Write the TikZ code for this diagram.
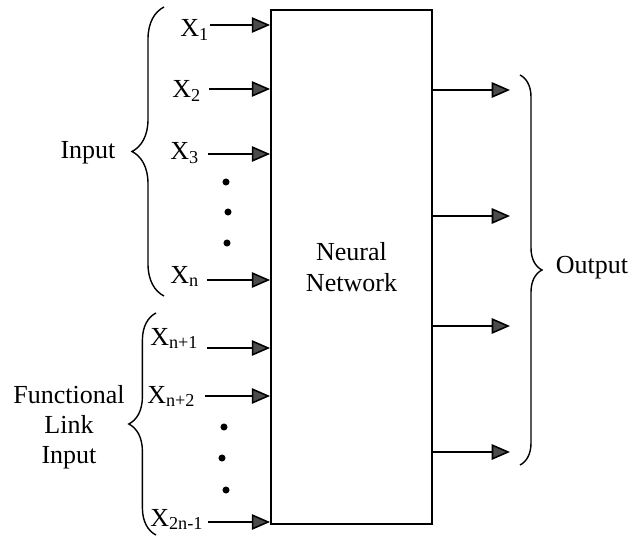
\documentclass[tikz,border=0pt]{standalone}
\usepackage{fontspec}
\setmainfont{Liberation Serif}
\usetikzlibrary{arrows.meta,decorations.pathreplacing}

\newcommand*{\boxl}{271}
\newcommand*{\boxr}{432}
\newcommand*{\boxt}{10}
\newcommand*{\boxb}{524}

\begin{document}
\begin{tikzpicture}
[
	x=0.025cm, y=-0.025cm,
	font=\fontsize{18.5}{21.5}\selectfont,
	arr/.style={-{Triangle[length=13pt,width=11pt,fill=black!70]},line width=1.1pt},
	dotpt/.style={circle,fill,inner sep=0pt,minimum size=5pt},
	lbl/.style={anchor=base west,inner sep=0pt},
	curly/.style={decorate,decoration={brace,amplitude=#1},line width=1pt}
]
	\useasboundingbox (0,0) rectangle (636,537);

	% network box
	\node[draw,line width=1.3pt,minimum width=4.025cm,minimum height=12.85cm,align=center]
		(nn) at ({(\boxl+\boxr)/2},{(\boxt+\boxb)/2}) {Neural\\Network};

	% inputs
	\foreach \nm/\s/\lx/\ly/\ax/\ay in {1/1/180/37/210/25, 2/2/172/98/209/89, 3/3/170/160/208/154, n/n/170/283/207/280}
	{
		\node[lbl] (x\nm) at (\lx,\ly) {X\textsubscript{\s}};
		\coordinate (s\nm) at (\ax,\ay);
		\draw[arr] (s\nm) -- (s\nm -| nn.west);
	}
	\node[dotpt] (d1) at (226,182) {};
	\node[dotpt] (d2) at (228,212) {};
	\node[dotpt] (d3) at (227,243) {};

	% functional link inputs
	\foreach \nm/\s/\lx/\ly/\ax/\ay in {p1/n+1/150/345/207/348, p2/n+2/147/403/205/396, q/2n-1/150/526/208/522}
	{
		\node[lbl] (x\nm) at (\lx,\ly) {X\textsubscript{\s}};
		\coordinate (s\nm) at (\ax,\ay);
		\draw[arr] (s\nm) -- (s\nm -| nn.west);
	}
	\node[dotpt] (d4) at (224,427) {};
	\node[dotpt] (d5) at (222,458) {};
	\node[dotpt] (d6) at (226,490) {};

	% outputs
	\foreach \nm/\y in {1/90,2/216,3/326,4/452}
	{
		\coordinate (o\nm) at (510,\y);
		\draw[arr] (o\nm -| nn.east) -- (o\nm);
	}

	% braces
	\draw[curly=0.8cm] (164,296) -- (164,7);
	\draw[curly=0.68cm] (156,535) -- (156,313);
	\draw[curly=0.55cm] (520,75) -- (520,465);
	\node (inp) at (88,153) {Input};
	\node[align=center] (fli) at (69,427) {Functional\\Link\\Input};
	\node (out) at (592,268) {Output};

\end{tikzpicture}
\end{document}
